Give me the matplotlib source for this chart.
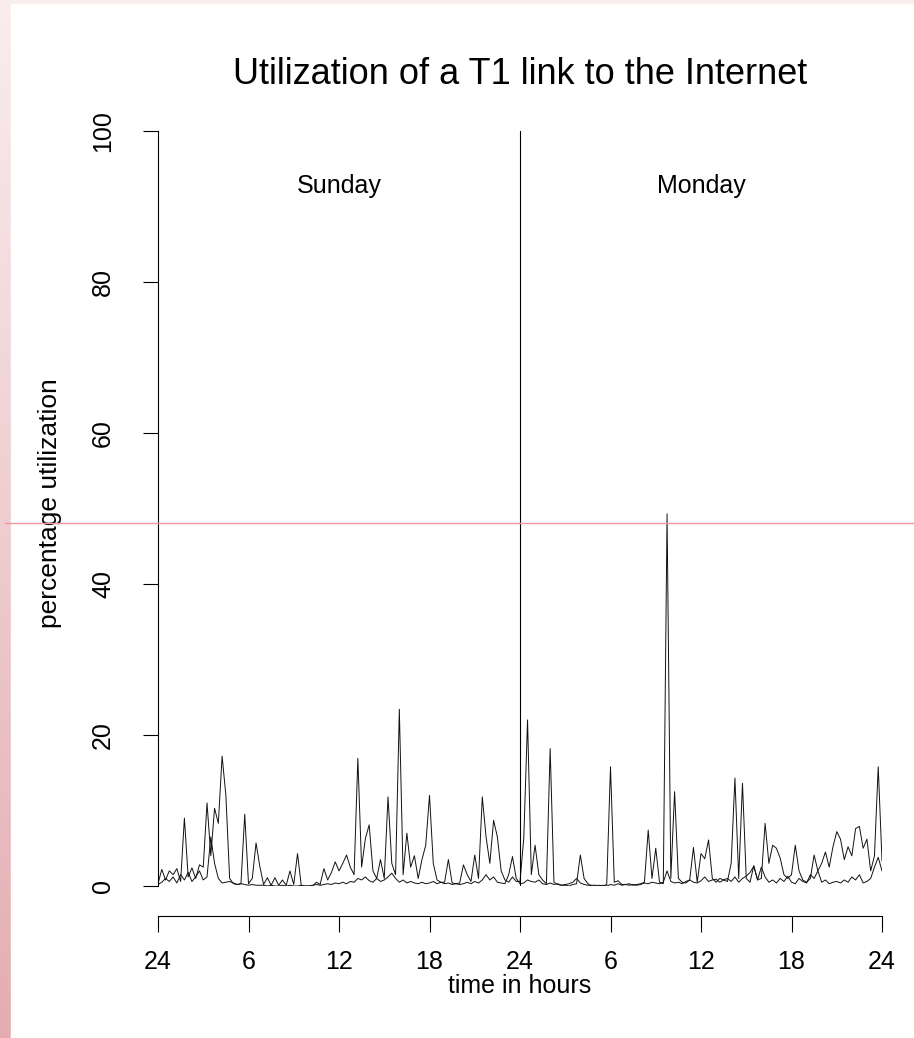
import numpy as np
import matplotlib
matplotlib.use("Agg")
import matplotlib.pyplot as plt
from matplotlib.lines import Line2D
from matplotlib.patches import Rectangle

plt.rcParams["font.family"] = ["Liberation Sans", "DejaVu Sans"]

# --- Data: link utilization (%) sampled every 15 minutes, Sunday 0h .. Monday 24h ---

# busier direction, one row per hour (4 samples), last value = end of Monday
util_a = [
    0.3, 2.2, 0.8, 2.0,
    1.5, 2.3, 0.6, 9.0,
    1.2, 2.4, 1.0, 2.8,
    2.5, 11.0, 4.0, 10.3,
    8.3, 17.2, 12.0, 1.0,
    0.3, 0.2, 0.3, 9.5,
    0.3, 1.0, 5.7, 2.6,
    0.2, 1.1, 0.1, 1.1,
    0.1, 0.8, 0.1, 2.0,
    0.2, 4.3, 0.0, 0.0,
    0.0, 0.0, 0.5, 0.2,
    2.3, 0.8, 1.8, 3.2,
    2.0, 3.0, 4.1, 2.5,
    1.5, 16.9, 2.5, 6.3,
    8.1, 2.0, 1.0, 3.5,
    1.0, 11.8, 3.0, 1.5,
    23.4, 1.5, 7.0, 2.5,
    4.0, 1.0, 3.5, 5.4,
    12.0, 3.0, 0.8, 0.5,
    0.5, 3.5, 0.4, 0.3,
    0.4, 2.8, 1.5, 0.6,
    4.1, 1.0, 11.8, 6.5,
    3.0, 8.7, 6.5, 2.0,
    0.8, 0.5, 1.2, 0.6,
    0.6, 6.3, 22.0, 1.5,
    5.4, 1.5, 0.8, 0.3,
    18.2, 0.5, 0.2, 0.1,
    0.1, 0.0, 0.2, 0.3,
    4.1, 1.0, 0.3, 0.0,
    0.0, 0.1, 0.0, 0.2,
    15.8, 0.5, 0.7, 0.2,
    0.2, 0.3, 0.1, 0.2,
    0.3, 0.5, 7.4, 1.0,
    5.0, 0.5, 0.3, 49.3,
    1.0, 12.5, 1.0, 0.5,
    0.4, 0.8, 5.1, 0.5,
    4.3, 3.6, 6.1, 1.0,
    0.5, 1.0, 0.8, 0.6,
    3.0, 14.3, 1.0, 13.6,
    1.0, 0.5, 2.7, 0.8,
    1.0, 8.3, 3.0, 5.4,
    5.0, 3.7, 1.5, 1.0,
    1.5, 5.4, 2.0, 0.8,
    0.5, 1.0, 4.1, 2.0,
    3.0, 4.5, 2.5, 5.2,
    7.2, 6.2, 3.5, 5.2,
    4.0, 7.6, 7.9, 5.0,
    6.2, 2.0, 4.0, 15.8,
    3.3,
]

# quieter direction
util_b = [
    0.2, 0.5, 1.0, 0.6,
    1.2, 0.4, 1.5, 0.8,
    1.8, 0.6, 1.2, 2.0,
    0.8, 1.2, 6.5, 3.0,
    1.0, 0.4, 0.5, 0.6,
    0.4, 0.2, 0.3, 0.2,
    0.1, 0.2, 0.1, 0.1,
    0.1, 0.0, 0.1, 0.0,
    0.0, 0.1, 0.0, 0.1,
    0.0, 0.0, 0.1, 0.0,
    0.0, 0.1, 0.2, 0.1,
    0.2, 0.3, 0.2, 0.4,
    0.3, 0.5, 0.3, 0.6,
    0.5, 1.0, 0.8, 1.2,
    0.7, 0.5, 1.0, 0.6,
    0.8, 1.2, 1.7, 1.0,
    0.5, 0.8, 0.4, 0.6,
    0.4, 0.3, 0.5, 0.3,
    0.4, 0.6, 0.3, 0.5,
    0.3, 0.4, 0.2, 0.3,
    0.2, 0.3, 0.5, 0.3,
    0.6, 0.4, 0.8, 1.5,
    0.8, 1.2, 0.5, 0.4,
    0.3, 1.5, 3.9, 1.0,
    0.3, 0.4, 0.8, 0.6,
    0.5, 0.8, 0.3, 0.2,
    0.4, 0.2, 0.3, 0.1,
    0.2, 0.3, 0.5, 1.0,
    0.4, 0.2, 0.1, 0.1,
    0.1, 0.0, 0.1, 0.0,
    0.2, 0.1, 0.3, 0.1,
    0.2, 0.1, 0.2, 0.1,
    0.2, 0.4, 0.3, 0.5,
    0.4, 0.3, 0.5, 2.0,
    0.6, 0.4, 0.5, 0.3,
    0.6, 0.8, 0.5, 0.4,
    0.7, 1.2, 0.6, 0.8,
    0.9, 0.5, 0.8, 1.0,
    0.6, 1.2, 0.5, 1.0,
    1.3, 1.8, 2.6, 0.8,
    2.5, 1.2, 0.5, 0.8,
    0.4, 1.0, 0.6, 1.3,
    0.5, 0.3, 1.0, 0.6,
    0.4, 1.5, 1.0, 2.0,
    0.5, 0.8, 0.3, 0.5,
    0.6, 0.4, 0.8, 0.5,
    1.2, 0.8, 1.5, 0.4,
    0.6, 1.0, 2.5, 3.8,
    2.0,
]

hours = np.linspace(0, 48, len(util_a))

tick_pos = [0, 6, 12, 18, 24, 30, 36, 42, 48]
tick_labels = ["24", "6", "12", "18", "24", "6", "12", "18", "24"]
y_ticks = [0, 20, 40, 60, 80, 100]
days = ["Sunday", "Monday"]
day_centers = [12, 36]

# ══════════════════════════════════════════════════════════════════
#  FIGURE
# ══════════════════════════════════════════════════════════════════

W, H = 914, 1038
fig = plt.figure(figsize=(W / 100, H / 100), dpi=100)

# --- pink gradient frame behind a white page ---
bg = fig.add_axes([0, 0, 1, 1], zorder=-10)
t = np.linspace(0, 1, 256)[:, None, None]
light = np.array([0.98, 0.93, 0.935])
dark = np.array([0.89, 0.68, 0.70])
grad = light * (1 - t) + dark * t
bg.imshow(np.repeat(grad, 4, axis=1), aspect="auto", extent=[0, 1, 0, 1])
bg.add_patch(Rectangle((11 / W, 0), 1, 1 - 4 / H, color="white"))
bg.set_xlim(0, 1)
bg.set_ylim(0, 1)
bg.axis("off")

# --- main plot ---
x0, x1, y0, y1 = 158, 882, 131, 886
ax = fig.add_axes([x0 / W, 1 - y1 / H, (x1 - x0) / W, (y1 - y0) / H])
ax.patch.set_alpha(0)

ax.plot(hours, util_b, color="#111111", linewidth=0.7)
ax.plot(hours, util_a, color="#111111", linewidth=0.7)
ax.axvline(24, color="black", linewidth=0.8)

ax.set_xlim(0, 48)
ax.set_ylim(0, 100)
ax.spines["top"].set_visible(False)
ax.spines["right"].set_visible(False)
ax.spines["bottom"].set_position(("outward", 30 * 0.72))
for s in ("left", "bottom"):
    ax.spines[s].set_linewidth(0.8)

ax.set_xticks(tick_pos)
ax.set_xticklabels(tick_labels)
ax.set_yticks(y_ticks)
ax.set_yticklabels([str(v) for v in y_ticks], rotation=90, va="center")
ax.tick_params(axis="x", length=11.5, width=0.8, pad=13, labelsize=18)
ax.tick_params(axis="y", length=10.8, width=0.8, pad=20, labelsize=18)

for name, xc in zip(days, day_centers):
    ax.text(xc, 92.7, name, ha="center", va="center", fontsize=18)

fig.text(520 / W, 1 - 75 / H, "Utilization of a T1 link to the Internet",
         ha="center", va="center", fontsize=26)
fig.text(520 / W, 1 - 986 / H, "time in hours", ha="center", va="center", fontsize=18)
fig.text(50 / W, 1 - 503 / H, "percentage utilization", ha="center", va="center",
         rotation=90, fontsize=19)

# --- stray red guide line across the page ---
fig.add_artist(Line2D([5 / W, 1], [1 - 523 / H, 1 - 523 / H], color="#ee9899",
                      linewidth=1, transform=fig.transFigure, zorder=20))

fig.savefig("out.png", dpi=100)
